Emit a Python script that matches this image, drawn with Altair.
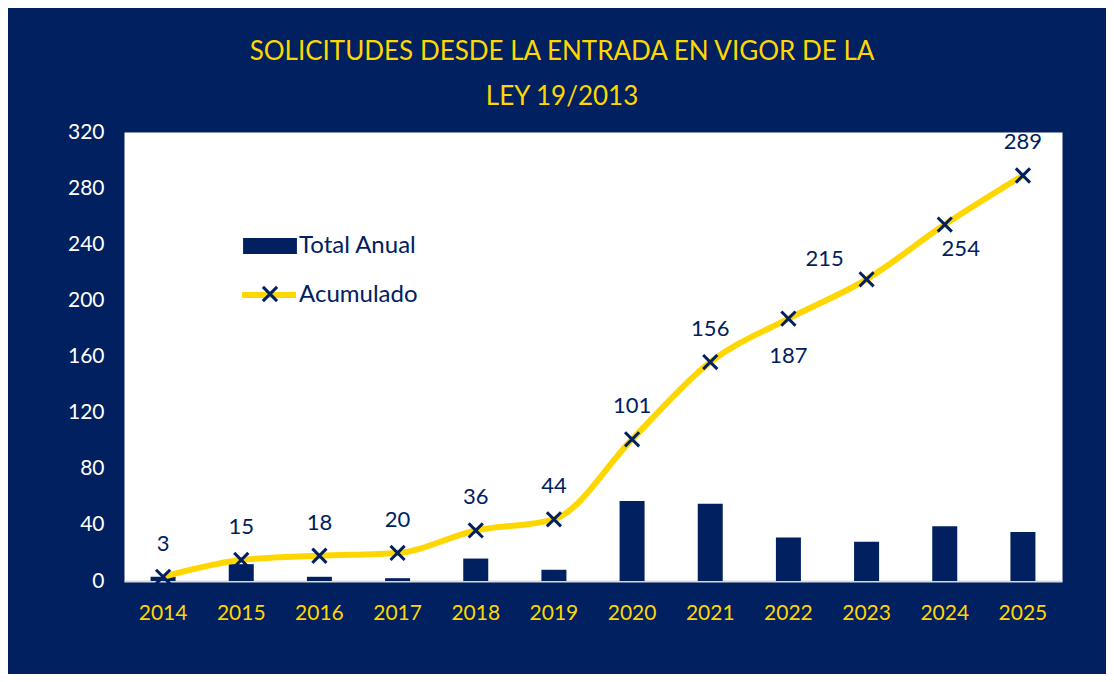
import altair as alt
import pandas as pd

NAVY = "#002060"
YELLOW = "#FFD700"
FONT = "Lato"

years = ["2014", "2015", "2016", "2017", "2018", "2019",
         "2020", "2021", "2022", "2023", "2024", "2025"]
total_anual = [3, 12, 3, 2, 16, 8, 57, 55, 31, 28, 39, 35]
acumulado = [3, 15, 18, 20, 36, 44, 101, 156, 187, 215, 254, 289]
y_ticks = [0, 40, 80, 120, 160, 200, 240, 280, 320]
title_lines = ["SOLICITUDES DESDE LA ENTRADA EN VIGOR DE LA", "LEY 19/2013"]

df = pd.DataFrame({
    "anio": years,
    "anual": total_anual,
    "acum": acumulado,
    "s1": "Total Anual",
    "s2": "Acumulado",
    "s3": "Marcador",
})

x_enc = alt.X("anio:N", sort=years,
              scale=alt.Scale(paddingInner=0, paddingOuter=0),
              axis=alt.Axis(title=None, labelAngle=0, labelColor=YELLOW,
                            labelFont=FONT, labelFontSize=21, ticks=False,
                            domainColor="#d9d9d9", domainWidth=2,
                            labelPadding=21))
y_scale = alt.Scale(domain=[0, 320])
y_axis = alt.Axis(title=None, values=y_ticks, labelColor="white",
                  labelFont=FONT, labelFontSize=21, ticks=False,
                  domain=False, grid=False, labelPadding=20)

RECT_PATH = "M-1,-0.3H1V0.3H-1Z"
LINE_PATH = "M-1,0H1"
X_PATH = "M-1,-1L1,1M-1,1L1,-1"
LEG_SIZE = 2900

bars = alt.Chart(df).mark_bar(size=25).encode(
    x=x_enc,
    y=alt.Y("anual:Q", scale=y_scale, axis=y_axis),
    fill=alt.Fill("s1:N", scale=alt.Scale(domain=["Total Anual"], range=[NAVY]),
                  legend=alt.Legend(title=None, orient="none", legendX=119,
                                    legendY=87, symbolType=RECT_PATH,
                                    symbolSize=LEG_SIZE, symbolStrokeWidth=0,
                                    labelFont=FONT, labelFontSize=24,
                                    labelColor=NAVY, padding=0, labelOffset=2)),
)

line = alt.Chart(df).mark_line(interpolate="monotone", strokeWidth=6).encode(
    x=x_enc,
    y=alt.Y("acum:Q", scale=y_scale, axis=y_axis),
    stroke=alt.Stroke("s2:N", scale=alt.Scale(domain=["Acumulado"], range=[YELLOW]),
                      legend=alt.Legend(title=None, orient="none", legendX=115,
                                        legendY=133, symbolType=LINE_PATH,
                                        symbolSize=LEG_SIZE, symbolStrokeWidth=6,
                                        labelFont=FONT, labelFontSize=24,
                                        labelColor=NAVY, padding=0, labelOffset=0)),
)

points = alt.Chart(df).mark_point(filled=False, size=200, strokeWidth=3,
                                  color=NAVY, opacity=1).encode(
    x=x_enc,
    y=alt.Y("acum:Q", scale=y_scale, axis=y_axis),
    shape=alt.Shape("s3:N", scale=alt.Scale(domain=["Marcador"], range=[X_PATH]),
                    legend=alt.Legend(title=None, orient="none", legendX=137,
                                      legendY=153, symbolSize=200,
                                      symbolStrokeWidth=3,
                                      symbolStrokeColor=NAVY,
                                      symbolFillColor="transparent",
                                      labelFontSize=10, labelExpr="''",
                                      padding=0, labelOffset=0)),
)

def labels(sel, dx, dy):
    return alt.Chart(df).transform_filter(
        alt.FieldOneOfPredicate(field="anio", oneOf=sel)
    ).mark_text(font=FONT, fontSize=22, color=NAVY, dx=dx, dy=dy).encode(
        x=x_enc,
        y=alt.Y("acum:Q", scale=y_scale, axis=y_axis),
        text="acum:Q",
    )

above = [y for y in years if y not in ("2022", "2023", "2024")]
lab_above = labels(above, 0, -33)
lab_187 = labels(["2022"], 0, 37)
lab_254 = labels(["2024"], 16, 24)
lab_215 = labels(["2023"], -42, -20)

chart = alt.layer(bars, line, points, lab_above, lab_187, lab_254, lab_215).properties(
    width=938,
    height=449,
    autosize="none",
    padding={"left": 116, "top": 124, "right": 44, "bottom": 93},
    background=NAVY,
    title=alt.TitleParams(text=title_lines, color=YELLOW, font=FONT,
                          fontSize=26, fontWeight="normal", anchor="middle",
                          lineHeight=45, offset=11, dx=-31),
).configure_view(fill="white", stroke="transparent")

chart.save("out.html", embed_options={"renderer": "svg", "actions": False})
